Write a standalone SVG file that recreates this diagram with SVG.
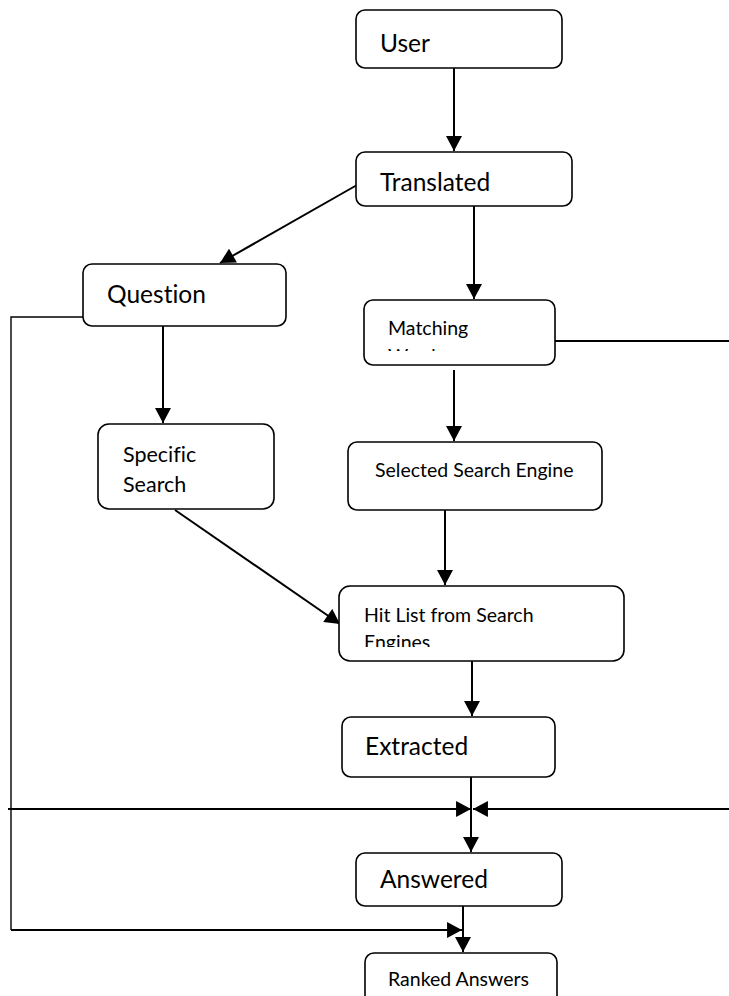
<svg xmlns="http://www.w3.org/2000/svg" width="729" height="996" viewBox="0 0 729 996">
<style>
.box{fill:#fff;stroke:#000;stroke-width:1.6}
.t{font-family:Lato,"Open Sans","Liberation Sans",sans-serif;fill:#000;font-variant-ligatures:none}
.big{font-size:24.5px}
.mid{font-size:19.5px}
.c{fill:none;stroke:#000;stroke-width:2}
.thin{fill:none;stroke:#000;stroke-width:1.4}
</style>
<defs>
<marker id="ah" markerUnits="userSpaceOnUse" markerWidth="16" markerHeight="16" viewBox="0 0 14 15" refX="14" refY="7.5" orient="auto">
<path d="M0,0 L14,7.5 L0,15 Z" fill="#000"/>
</marker>
<clipPath id="clipM"><rect x="364" y="300" width="191" height="51"/></clipPath>
<clipPath id="clipH"><rect x="339" y="586" width="285" height="61"/></clipPath>
</defs>
<g id="connectors">
<line class="c" x1="454" y1="68" x2="454" y2="151" marker-end="url(#ah)"/>
<line class="c" x1="357" y1="185" x2="220" y2="263" marker-end="url(#ah)"/>
<line class="c" x1="474" y1="206" x2="474" y2="299" marker-end="url(#ah)"/>
<line class="c" x1="163" y1="326" x2="163" y2="423" marker-end="url(#ah)"/>
<line class="c" x1="454" y1="370" x2="454" y2="441" marker-end="url(#ah)"/>
<line class="c" x1="445" y1="510" x2="445" y2="585" marker-end="url(#ah)"/>
<line class="c" x1="175" y1="510" x2="340" y2="624" marker-end="url(#ah)"/>
<line class="c" x1="472" y1="661" x2="472" y2="716" marker-end="url(#ah)"/>
<line class="c" x1="471" y1="777" x2="471" y2="852" marker-end="url(#ah)"/>
<line class="c" x1="463" y1="906" x2="463" y2="952" marker-end="url(#ah)"/>
<polyline class="thin" points="83,317 11,317 11,930"/>
<line class="c" x1="8" y1="809" x2="471" y2="809" marker-end="url(#ah)"/>
<line class="c" x1="729" y1="809" x2="473" y2="809" marker-end="url(#ah)"/>
<line class="c" x1="11" y1="930" x2="462" y2="930" marker-end="url(#ah)"/>
<line class="c" x1="555" y1="341" x2="729" y2="341"/>
</g>
<g id="user">
<rect class="box" x="356" y="10" width="206" height="58" rx="9"/>
<text class="t big" x="380" y="52">User</text>
</g>
<g id="translated">
<rect class="box" x="356" y="152" width="216" height="54" rx="9"/>
<text class="t big" x="380" y="191">Translated</text>
</g>
<g id="question">
<rect class="box" x="83" y="264" width="203" height="62" rx="9"/>
<text class="t big" x="107" y="303">Question</text>
</g>
<g id="matching">
<rect class="box" x="364" y="300" width="191" height="65" rx="9"/>
<g clip-path="url(#clipM)">
<text class="t mid" x="388" y="335">Matching</text>
<text class="t mid" x="388" y="363">Words</text>
</g>
</g>
<g id="specific">
<rect class="box" x="98" y="424" width="176" height="85" rx="11"/>
<text class="t" style="font-size:21.5px" x="123" y="462">Specific</text>
<text class="t" style="font-size:21.5px" x="123" y="492">Search</text>
</g>
<g id="selected">
<rect class="box" x="348" y="442" width="254" height="68" rx="9"/>
<text class="t mid" x="375" y="477">Selected Search Engine</text>
</g>
<g id="hitlist">
<rect class="box" x="339" y="586" width="285" height="75" rx="11"/>
<g clip-path="url(#clipH)">
<text class="t mid" x="364" y="622">Hit List from Search</text>
<text class="t mid" x="364" y="649">Engines</text>
</g>
</g>
<g id="extracted">
<rect class="box" x="342" y="717" width="213" height="60" rx="9"/>
<text class="t big" x="365" y="755">Extracted</text>
</g>
<g id="answered">
<rect class="box" x="356" y="853" width="206" height="53" rx="9"/>
<text class="t big" x="380" y="888">Answered</text>
</g>
<g id="ranked">
<rect class="box" x="365" y="953" width="192" height="60" rx="9"/>
<text class="t mid" x="388" y="986">Ranked Answers</text>
</g>
</svg>
